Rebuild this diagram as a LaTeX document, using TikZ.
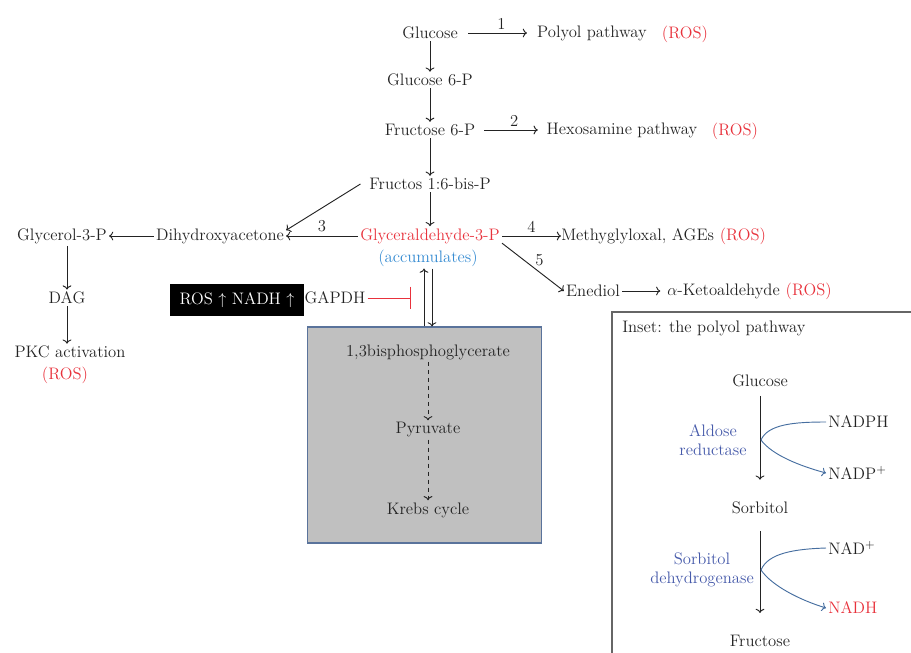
\documentclass[tikz,border=0pt]{standalone}
\usepackage{xcolor}
\usepackage{tikz}
\usetikzlibrary{positioning,arrows.meta}
\definecolor{rosred}{RGB}{232,50,60}
\definecolor{accblue}{RGB}{55,140,210}
\definecolor{enzblue}{RGB}{70,90,170}
\definecolor{curveblue}{RGB}{70,110,160}
\definecolor{boxgray}{RGB}{192,192,192}
\definecolor{boxedge}{RGB}{90,115,155}
\definecolor{inkgray}{RGB}{35,35,35}

\begin{document}
\begin{tikzpicture}[x=0.75pt,y=0.75pt,yscale=-1,xscale=1,
    every node/.style={font=\fontsize{12.5}{15}\selectfont, text=inkgray, inner sep=1.5pt},
    conv/.style={->, draw=inkgray, line width=0.7pt},
    dconv/.style={->, draw=inkgray, line width=0.7pt, dashed},
    ros/.style={text=rosred},
    enz/.style={text=enzblue, align=center, font=\fontsize{12.5}{14}\selectfont},
    cofac/.style={->, draw=curveblue, line width=0.7pt}]
    \clip (0,0) rectangle (911,653);
    \useasboundingbox (0,0) rectangle (911,653);

    % main glycolysis chain
    \node (glucose) at (430,33) {Glucose};
    \node (gsixp) at (430,80) {Glucose 6-P};
    \node (fsixp) at (430,130) {Fructose 6-P};
    \node (fbisp) at (430,184) {Fructos 1:6-bis-P};
    \node[text=rosred] (gap) at (430,236) {Glyceraldehyde-3-P};
    \node[text=accblue] (accum) at (428,258) {(accumulates)};

    \draw[conv] (glucose) -- (gsixp);
    \draw[conv] (gsixp) -- (fsixp);
    \draw[conv] (fsixp) -- (fbisp);
    \draw[conv] (fbisp) -- (gap);

    % side pathways
    \node (polyol) at (592,33) {Polyol pathway};
    \node[ros] (polyolros) at (685,34) {(ROS)};
    \draw[conv, shorten >=6pt] (glucose.east) ++(6pt,0) coordinate (gs) -- (polyol.west) node[midway,above=1pt] {1};

    \node (hexo) at (622,130) {Hexosamine pathway};
    \node[ros] (hexoros) at (735,131) {(ROS)};
    \draw[conv, shorten >=5pt] (fsixp.east) ++(5pt,0) -- (hexo.west) node[midway,above=1pt] {2};

    \node (dhap) at (220,236) {Dihydroxyacetone};
    \node (glyc) at (62,236) {Glycerol-3-P};
    \node (dag) at (67,298) {DAG};
    \node (pkc) at (70,352) {PKC activation};
    \node[ros] (pkcros) at (65,375) {(ROS)};
    \draw[conv] ([xshift=-5pt]fbisp.west) -- ([yshift=3pt]dhap.north east);
    \draw[conv] (gap) -- (dhap) node[midway,above=1pt] {3};
    \draw[conv] (dhap) -- (glyc);
    \draw[conv] (dag |- glyc.south) -- (dag);
    \draw[conv] (dag) -- (dag |- pkc.north);

    \node[anchor=west, inner sep=0pt] (methyl) at (561,236) {Methyglyloxal, AGEs};
    \node[ros, anchor=west, inner sep=0pt] (methylros) at ([xshift=4pt]methyl.east) {(ROS)};
    \draw[conv] (gap.east) -- (methyl.west) node[midway,above=1pt] {4};

    \node (enediol) at (593,291) {Enediol};
    \node[anchor=west, inner sep=0pt] (keto) at (667,291) {$\alpha$-Ketoaldehyde};
    \node[ros, anchor=west, inner sep=0pt] (ketoros) at ([xshift=4pt]keto.east) {(ROS)};
    \draw[conv] ([yshift=-2pt]gap.south east) -- (enediol.west) node[midway,above right=-1pt and 0pt] {5};
    \draw[conv, shorten >=5pt] (enediol) -- (keto);

    % GAPDH block
    \node[fill=black, text=white, minimum width=100pt, minimum height=24pt] (rosbox) at (237,300) {ROS $\uparrow$ NADH $\uparrow$};
    \node (gapdh) at (335,298) {GAPDH};
    \coordinate (block) at (411,298);
    \draw[draw=rosred, line width=0.7pt, -{Bar[width=17pt]}] (gapdh) -- (block);

    % lower glycolysis box
    \node[draw=boxedge, fill=boxgray, line width=0.8pt, minimum width=176pt, minimum height=162pt] (lowbox) at (424.5,435) {};
    \node (bpg) at (428,352) {1,3bisphosphoglycerate};
    \node (pyr) at (428,430) {Pyruvate};
    \node (krebs) at (428,510) {Krebs cycle};
    \draw[dconv] (bpg) -- (pyr);
    \draw[dconv] (pyr) -- (krebs);

    \draw[conv] ([xshift=-3pt]accum.south |- lowbox.north) -- ([xshift=-3pt]accum.south);
    \draw[conv] ([xshift=3pt]accum.south) -- ([xshift=3pt]accum.south |- lowbox.north);

    % inset: the polyol pathway
    \draw[draw=gray!80!black, line width=1.2pt] (612,312) rectangle (940,680);
    \node[anchor=west] (insettitle) at (620,328) {Inset: the polyol pathway};
    \node (iglucose) at (760,381) {Glucose};
    \node (sorbitol) at (760,508) {Sorbitol};
    \node (ifructose) at (760,641) {Fructose};
    \draw[conv, shorten <=5pt, shorten >=15pt] (iglucose) -- (sorbitol);
    \draw[conv, shorten <=11pt, shorten >=15pt] (sorbitol) -- (ifructose);
    \node[enz] (aldose) at (713,440) {Aldose\\reductase};
    \node[enz] (sdh) at (702,570) {Sorbitol\\dehydrogenase};

    \node[anchor=west] (nadph) at (826,422) {NADPH};
    \node[anchor=west] (nadp) at (826,473) {NADP$^{+}$};
    \node[anchor=west] (nad) at (826,548) {NAD$^{+}$};
    \node[anchor=west, text=rosred] (nadh) at (826,608) {NADH};
    \coordinate (splitone) at (761,440);
    \coordinate (splittwo) at (761,570);
    \draw[draw=curveblue, line width=0.7pt] (splitone) .. controls (768,424) and (795,422) .. (nadph.west);
    \draw[cofac] (splitone) .. controls (772,455) and (800,466) .. (nadp.west);
    \draw[draw=curveblue, line width=0.7pt] (splittwo) .. controls (768,553) and (795,549) .. (nad.west);
    \draw[cofac] (splittwo) .. controls (772,586) and (800,600) .. (nadh.west);
\end{tikzpicture}
\end{document}
